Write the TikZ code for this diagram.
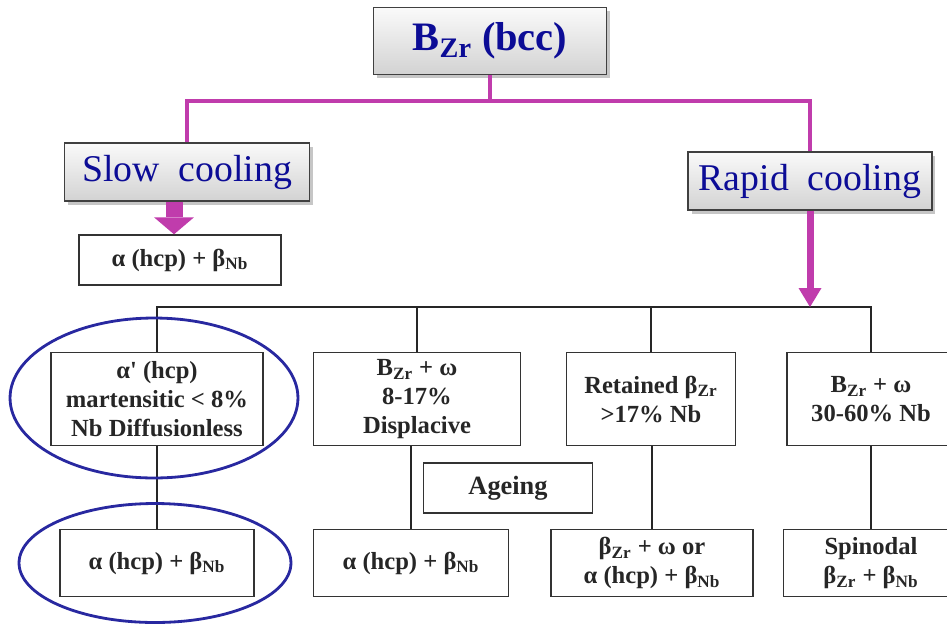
\documentclass[tikz,border=0pt]{standalone}
\usepackage{fontspec}
\setmainfont{Liberation Serif}[Ligatures=TeXOff]
\usetikzlibrary{arrows.meta,shadows}
\definecolor{magline}{RGB}{192,60,172}
\definecolor{navy}{RGB}{12,12,150}
\definecolor{ringblue}{RGB}{40,40,160}
\newcommand{\Zr}{\textsubscript{Zr}}
\newcommand{\Nb}{\textsubscript{Nb}}

\begin{document}
\begin{tikzpicture}[x=0.02cm,y=-0.02cm,
    phase/.style={draw=black!80,line width=0.8pt,align=center,inner sep=0pt,
      font=\fontsize{14}{16.5}\selectfont\bfseries,text=black!85},
    cool/.style={draw=black!75,line width=0.8pt,top color=gray!4,bottom color=gray!35,
      drop shadow={shadow xshift=2pt,shadow yshift=-2pt,opacity=0.45},
      text=navy,inner sep=0pt},
    branch/.style={draw=magline,line width=2.2pt},
    tree/.style={draw=black!85,line width=1.6pt},
    ring/.style={draw=ringblue,line width=1.6pt}]
  \useasboundingbox (0,0) rectangle (947,623);

  % top and the two cooling routes
  \node[cool,minimum width=4.66cm,minimum height=1.34cm,font=\fontsize{23}{26}\selectfont\bfseries]
    (bcc) at (490,41) {B\Zr{} (bcc)};
  \node[cool,minimum width=4.9cm,minimum height=1.16cm,font=\fontsize{21.5}{24}\selectfont]
    (slow) at (187,172) {Slow\ \ cooling};
  \node[cool,minimum width=4.88cm,minimum height=1.16cm,font=\fontsize{21.5}{24}\selectfont]
    (rapid) at (810,181) {Rapid\ \ cooling};
  \coordinate (fork) at (490,101);
  \draw[branch] (bcc.south) -- (fork);
  \draw[branch] (slow.north) |- (fork) -| (rapid.north);

  \node[phase,minimum width=4.04cm,minimum height=1.0cm] (slowres) at (180,260) {α (hcp) + β\Nb};
  \draw[magline,line width=0.34cm,-{Triangle[width=0.8cm,length=0.34cm,line width=0pt]}]
    ([xshift=-0.12cm]slowres.north |- slow.south) -- ([xshift=-0.12cm]slowres.north);

  % rapid cooling products
  \coordinate (bus) at (0,307);
  \node[phase,minimum width=4.24cm,minimum height=1.86cm] (mart) at (157,399)
    {α' (hcp)\\martensitic < 8\%\\Nb Diffusionless};
  \node[phase,minimum width=4.14cm,minimum height=1.86cm] (disp) at (417,399)
    {B\Zr{} + ω\\8-17\%\\Displacive};
  \node[phase,minimum width=3.38cm,minimum height=1.86cm] (ret) at (651,399)
    {Retained β\Zr\\>17\% Nb};
  \node[phase,minimum width=3.36cm,minimum height=1.86cm] (omega) at (871,399)
    {B\Zr{} + ω\\30-60\% Nb};
  \draw[tree] (mart.north) |- (omega.north |- bus) -- (omega.north);
  \draw[tree] (disp.north) -- (disp.north |- bus);
  \draw[tree] (ret.north) -- (ret.north |- bus);
  \draw[magline,line width=0.14cm,-{Triangle[width=0.46cm,length=0.38cm,line width=0pt]}]
    (rapid.south) -- (rapid.south |- bus);

  \node[phase,minimum width=3.38cm,minimum height=1.0cm,font=\fontsize{15}{17}\selectfont\bfseries]
    (age) at (508,488) {Ageing};

  \node[phase,minimum width=3.88cm,minimum height=1.34cm] (res1) at (157,563) {α (hcp) + β\Nb};
  \node[phase,minimum width=3.9cm,minimum height=1.34cm] (res2) at (411,563) {α (hcp) + β\Nb};
  \node[phase,minimum width=4.04cm,minimum height=1.34cm] (res3) at (652,563) {β\Zr{} + ω or\\α (hcp) + β\Nb};
  \node[phase,minimum width=3.5cm,minimum height=1.34cm] (res4) at (871,563) {Spinodal\\β\Zr{} + β\Nb};
  \draw[tree] (mart.south) -- (res1.north);
  \draw[tree] (res2.north) -- (res2.north |- disp.south);
  \draw[tree] (res3.north) -- (res3.north |- ret.south);
  \draw[tree] (omega.south) -- (res4.north);

  % the highlighted route
  \draw[ring] (154,398) ellipse [x radius=2.88cm,y radius=1.6cm];
  \draw[ring] (155,563) ellipse [x radius=2.72cm,y radius=1.19cm];
\end{tikzpicture}
\end{document}
